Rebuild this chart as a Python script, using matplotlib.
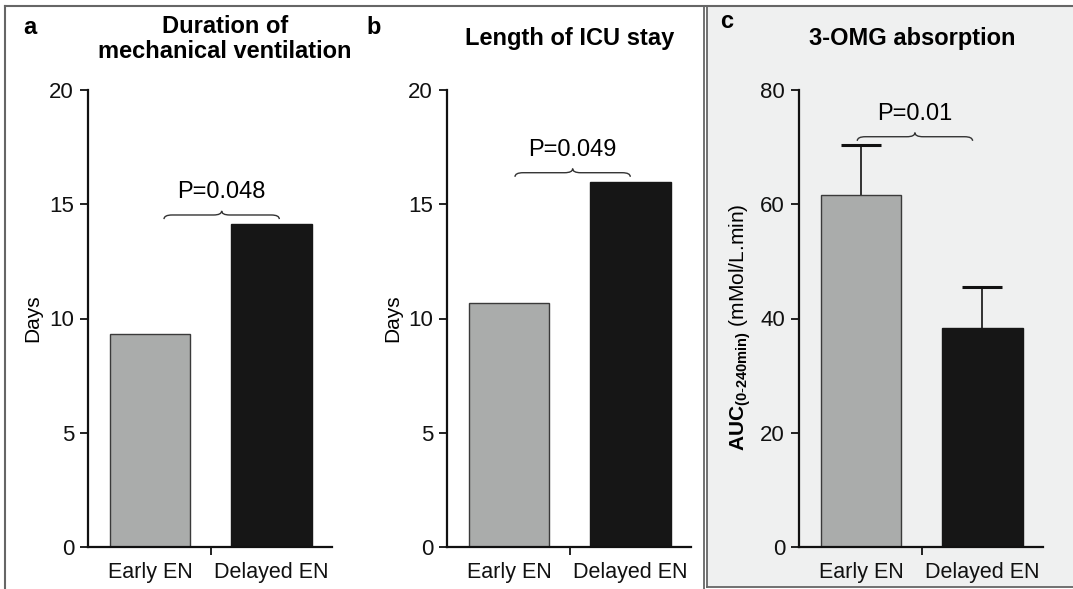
import matplotlib
matplotlib.use("Agg")
import matplotlib.pyplot as plt
from matplotlib.patches import Rectangle, PathPatch
from matplotlib.path import Path
from matplotlib.lines import Line2D

plt.rcParams["font.family"] = ["Liberation Sans", "DejaVu Sans"]
plt.rcParams["mathtext.fontset"] = "custom"
plt.rcParams["mathtext.rm"] = "Liberation Sans"
plt.rcParams["mathtext.bf"] = "Liberation Sans:bold"

# data
groups = ["Early EN", "Delayed EN"]
vent_days = [9.33, 14.12]
icu_days = [10.69, 15.98]
omg_auc = [61.6, 38.4]
omg_err = [8.7, 7.1]
p_vent = "P=0.048"
p_icu = "P=0.049"
p_omg = "P=0.01"

GREY = "#aaacab"
BLACK = "#161616"
EDGE = "#3a3a3a"
PANEL_BG = "#eff0f0"
FRAME = "#666"


def brace(ax, x0, x1, y0, color="#333"):
    """横向きの波かっこ（上に尖る）"""
    ylo, yhi = ax.get_ylim()
    h = (yhi - ylo) * 0.018
    xm = (x0 + x1) / 2
    d = (x1 - x0) * 0.07
    ym = y0 + h / 2
    verts = [(x0, y0), (x0, ym), (x0 + d, ym),
             (xm - d, ym),
             (xm, ym), (xm, y0 + h),
             (xm, ym), (xm + d, ym),
             (x1 - d, ym),
             (x1, ym), (x1, y0)]
    codes = [Path.MOVETO, Path.CURVE3, Path.CURVE3,
             Path.LINETO,
             Path.CURVE3, Path.CURVE3,
             Path.CURVE3, Path.CURVE3,
             Path.LINETO,
             Path.CURVE3, Path.CURVE3]
    ax.add_patch(PathPatch(Path(verts, codes), fill=False, lw=1.0,
                           edgecolor=color))


def style_axes(ax, ymax, step):
    ax.set_xlim(-0.51, 1.5)
    ax.set_ylim(0, ymax)
    ax.set_yticks(range(0, ymax + 1, step))
    ax.set_xticks([0.5])
    ax.set_xticklabels([""])
    for s in ("top", "right"):
        ax.spines[s].set_visible(False)
    for s in ("left", "bottom"):
        ax.spines[s].set_linewidth(1.6)
        ax.spines[s].set_color("#111")
    ax.tick_params(axis="both", direction="out", length=6, width=1.3,
                   labelsize=16, colors="#111", pad=4)
    ax.set_facecolor("none")
    for i, g in enumerate(groups):
        ax.text(i, -0.032, g, transform=ax.get_xaxis_transform(),
                ha="center", va="top", fontsize=15.5, color="#111")


def bars(ax, vals):
    ax.bar([0, 1], vals, width=0.665, color=[GREY, BLACK],
           edgecolor=[EDGE, BLACK], linewidth=1.0, zorder=2)


fig = plt.figure(figsize=(10.73, 5.89), dpi=100)
W, H = 1073, 589

# 枠線と c パネルの背景
fig.add_artist(Rectangle((707 / W, 2 / H), (W - 707) / W, 581 / H,
                         transform=fig.transFigure, facecolor=PANEL_BG,
                         edgecolor="none", zorder=0))
for xs, ys, lw in [([5 / W, 1], [1 - 6 / H] * 2, 1.5),
                   ([5 / W] * 2, [0, 1 - 6 / H], 1.5),
                   ([704 / W] * 2, [0, 1 - 6 / H], 1.3),
                   ([707 / W] * 2, [2 / H, 1 - 6 / H], 1.3),
                   ([707 / W, 1], [2 / H] * 2, 1.3)]:
    fig.add_artist(Line2D(xs, ys, transform=fig.transFigure,
                          color=FRAME, lw=lw))

bottom = 42 / H
height = 457 / H
width = 244 / W

# a
axA = fig.add_axes([88 / W, bottom, width, height])
bars(axA, vent_days)
style_axes(axA, 20, 5)
axA.set_ylabel("Days", fontsize=15, va="center")
axA.yaxis.set_label_coords(-0.225, 0.5)
brace(axA, 0.116, 1.066, 14.35)
axA.text(0.59, 15.05, p_vent, ha="center", va="bottom", fontsize=17)

# b
axB = fig.add_axes([447 / W, bottom, width, height])
bars(axB, icu_days)
style_axes(axB, 20, 5)
axB.set_ylabel("Days", fontsize=15, va="center")
axB.yaxis.set_label_coords(-0.222, 0.5)
brace(axB, 0.05, 1.0, 16.2)
axB.text(0.525, 16.9, p_icu, ha="center", va="bottom", fontsize=17)

# c
axC = fig.add_axes([799 / W, bottom, width, height])
_, caps, _ = axC.errorbar([0, 1], omg_auc, yerr=[[0, 0], omg_err],
                          fmt="none", ecolor="#111", elinewidth=1.2,
                          capsize=14.5, capthick=2.2, zorder=1)
caps[0].set_visible(False)
bars(axC, omg_auc)
style_axes(axC, 80, 20)
axC.set_ylabel(r"$\mathbf{AUC_{(0\text{-}240min)}}$ (mMol/L.min)",
               fontsize=15, va="center")
axC.yaxis.set_label_coords(-0.24, 0.48)
brace(axC, -0.03, 0.92, 71.1)
axC.text(0.445, 73.8, p_omg, ha="center", va="bottom", fontsize=17)

# 見出し
fig.text(30 / W, 1 - 27 / H, "a", fontsize=17, fontweight="bold",
         ha="center", va="center")
fig.text(225 / W, 1 - 39 / H, "Duration of\nmechanical ventilation",
         fontsize=17, fontweight="bold", ha="center", va="center",
         linespacing=1.15)
fig.text(374 / W, 1 - 27 / H, "b", fontsize=17, fontweight="bold",
         ha="center", va="center")
fig.text(570 / W, 1 - 38 / H, "Length of ICU stay", fontsize=17,
         fontweight="bold", ha="center", va="center")
fig.text(727 / W, 1 - 22 / H, "c", fontsize=17, fontweight="bold",
         ha="center", va="center")
fig.text(912 / W, 1 - 38 / H, "3-OMG absorption", fontsize=17,
         fontweight="bold", ha="center", va="center")

fig.savefig("out.png", dpi=100)
